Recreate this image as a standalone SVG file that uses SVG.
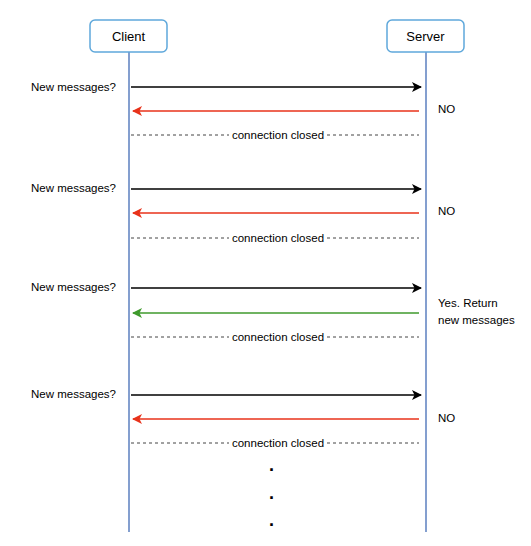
<svg xmlns="http://www.w3.org/2000/svg" width="531" height="546" viewBox="0 0 531 546">
<style>
.box{fill:#fff;stroke:#5fa8db;stroke-width:1.5}
.life{stroke:#5b7fbf;stroke-width:1.5;fill:none}
.t{font-family:"Liberation Sans",Arial,sans-serif;font-size:11.5px;fill:#000}
.h{font-size:13px}
.c{text-anchor:middle}
.dot{font-size:18px;font-weight:bold}
.req{stroke:#000;stroke-width:1.5;fill:none}
.no{stroke:#e8321a;stroke-width:1.5;fill:none}
.yes{stroke:#3f9a2c;stroke-width:1.5;fill:none}
.dash{stroke:#444;stroke-width:1;stroke-dasharray:3,3;fill:none}
</style>
<defs>
<marker id="ab" viewBox="0 0 10 10" refX="9" refY="5" markerWidth="10" markerHeight="10" markerUnits="userSpaceOnUse" orient="auto"><path d="M0,0 L10,5 L0,10 L2.5,5 z" fill="#000"/></marker>
<marker id="ar" viewBox="0 0 10 10" refX="9" refY="5" markerWidth="10" markerHeight="10" markerUnits="userSpaceOnUse" orient="auto"><path d="M0,0 L10,5 L0,10 L2.5,5 z" fill="#e8321a"/></marker>
<marker id="ag" viewBox="0 0 10 10" refX="9" refY="5" markerWidth="10" markerHeight="10" markerUnits="userSpaceOnUse" orient="auto"><path d="M0,0 L10,5 L0,10 L2.5,5 z" fill="#3f9a2c"/></marker>
</defs>
<rect width="531" height="546" fill="#fff"/>
<g id="client">
<line class="life" x1="129" y1="52" x2="129" y2="532"/>
<rect class="box" x="90" y="20" width="77" height="32" rx="5"/>
<text class="t h c" x="128.5" y="41">Client</text>
</g>
<g id="server">
<line class="life" x1="426" y1="52" x2="426" y2="532"/>
<rect class="box" x="387" y="20" width="77" height="32" rx="5"/>
<text class="t h c" x="425.5" y="41">Server</text>
</g>
<g id="connectors">
<line class="req" x1="131" y1="87" x2="421" y2="87" marker-end="url(#ab)"/>
<line class="no" x1="419" y1="111" x2="133" y2="111" marker-end="url(#ar)"/>
<line class="dash" x1="131" y1="135" x2="229" y2="135"/>
<line class="dash" x1="327" y1="135" x2="419" y2="135"/>

<line class="req" x1="131" y1="189" x2="421" y2="189" marker-end="url(#ab)"/>
<line class="no" x1="419" y1="213" x2="133" y2="213" marker-end="url(#ar)"/>
<line class="dash" x1="131" y1="238" x2="229" y2="238"/>
<line class="dash" x1="327" y1="238" x2="419" y2="238"/>

<line class="req" x1="131" y1="288" x2="421" y2="288" marker-end="url(#ab)"/>
<line class="yes" x1="419" y1="313" x2="133" y2="313" marker-end="url(#ag)"/>
<line class="dash" x1="131" y1="337" x2="229" y2="337"/>
<line class="dash" x1="327" y1="337" x2="419" y2="337"/>

<line class="req" x1="131" y1="395" x2="421" y2="395" marker-end="url(#ab)"/>
<line class="no" x1="419" y1="419" x2="133" y2="419" marker-end="url(#ar)"/>
<line class="dash" x1="131" y1="443" x2="229" y2="443"/>
<line class="dash" x1="327" y1="443" x2="419" y2="443"/>
</g>
<g id="labels">
<text class="t" x="31" y="91">New messages?</text>
<text class="t" x="438" y="113">NO</text>
<text class="t c" x="278" y="139">connection closed</text>
<text class="t" x="31" y="192">New messages?</text>
<text class="t" x="438" y="215">NO</text>
<text class="t c" x="278" y="242">connection closed</text>
<text class="t" x="31" y="291">New messages?</text>
<text class="t" x="438" y="307">Yes. Return</text>
<text class="t" x="438" y="324">new messages</text>
<text class="t c" x="278" y="341">connection closed</text>
<text class="t" x="31" y="398">New messages?</text>
<text class="t" x="438" y="422">NO</text>
<text class="t c" x="278" y="447">connection closed</text>
<text class="t c dot" x="271.5" y="471">.</text>
<text class="t c dot" x="271.5" y="499">.</text>
<text class="t c dot" x="271.5" y="526">.</text>
</g>
</svg>
